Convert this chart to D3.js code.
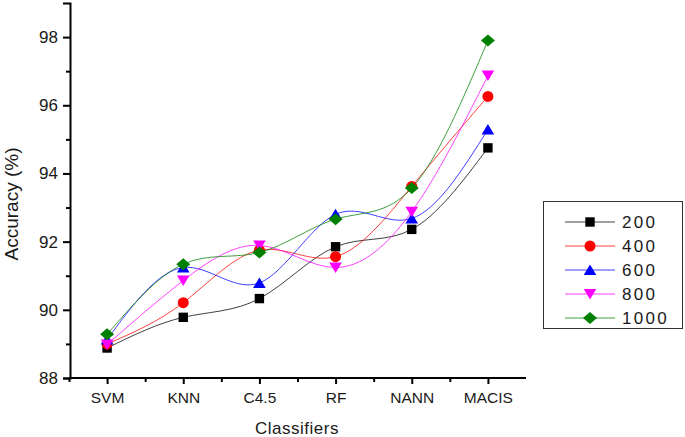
<!DOCTYPE html>
<html><head><meta charset="utf-8">
<script src="https://cdn.jsdelivr.net/npm/d3@7"></script>
<style>body{margin:0;background:#fff}svg{display:block}text{font-family:"Liberation Sans",Arial,sans-serif;fill:#1a1a1a}</style>
</head><body>
<svg id="c" width="685" height="437"></svg>
<script>
const categories = ["SVM","KNN","C4.5","RF","NANN","MACIS"];
const seriesNames = ["200","400","600","800","1000"];
const s200  = [88.88, 89.78, 90.33, 91.85, 92.36, 94.75];
const s400  = [89.00, 90.21, 91.75, 91.56, 93.62, 96.26];
const s600  = [89.13, 91.24, 90.79, 92.80, 92.68, 95.29];
const s800  = [88.98, 90.86, 91.89, 91.24, 92.88, 96.87];
const s1000 = [89.28, 91.34, 91.68, 92.66, 93.57, 97.90];
const yTicks = [88, 90, 92, 94, 96, 98];
const yMinor = [89, 91, 93, 95, 97];
const colors = ["#000000","#ff0000","#0000ff","#ff00ff","#008000"];
const series = [s200, s400, s600, s800, s1000];

const svg = d3.select("#c");
const x = d3.scaleLinear().domain([-0.5, 5.5]).range([69, 526]);
const y = d3.scaleLinear().domain([88, 99]).range([378, 3]);

// axes
const yAxis = d3.axisLeft(y).tickValues(yTicks).tickSize(7).tickPadding(5).tickFormat(d3.format("d"));
const gy = svg.append("g").attr("transform","translate(70,0)").call(yAxis);
gy.select(".domain").attr("stroke","#000").attr("stroke-width",2);
gy.selectAll(".tick line").attr("stroke","#000").attr("stroke-width",2);
gy.selectAll(".tick text").style("font-size","17px").attr("fill","#1a1a1a");
const gym = svg.append("g").attr("transform","translate(70,0)").call(d3.axisLeft(y).tickValues(yMinor).tickSize(4).tickFormat(""));
gym.select(".domain").remove();
gym.selectAll(".tick line").attr("stroke","#000").attr("stroke-width",2);

const xAxis = d3.axisBottom(x).tickValues(d3.range(categories.length)).tickSize(6).tickPadding(8).tickFormat(i=>categories[i]);
const gx = svg.append("g").attr("transform","translate(0,378)").call(xAxis);
gx.select(".domain").attr("stroke","#000").attr("stroke-width",2).attr("d","M69,0H526");
gx.selectAll(".tick line").attr("stroke","#000").attr("stroke-width",2);
gx.selectAll(".tick text").style("font-size","15.5px").attr("fill","#1a1a1a");
const gxm = svg.append("g").attr("transform","translate(0,378)").call(d3.axisBottom(x).tickValues([-0.5,0.5,1.5,2.5,3.5,4.5]).tickSize(4).tickFormat(""));
gxm.select(".domain").remove();
gxm.selectAll(".tick line").attr("stroke","#000").attr("stroke-width",2);

// axis titles
svg.append("text").attr("x",297).attr("y",434).attr("text-anchor","middle").style("font-size","17px").style("letter-spacing","0.5px").text("Classifiers");
svg.append("text").attr("transform","translate(18,204) rotate(-90)").attr("text-anchor","middle").style("font-size","19px").text("Accuracy (%)");

// series
const line = d3.line().x((d,i)=>x(i)).y(d=>y(d)).curve(d3.curveNatural);
function markerPath(k){
  switch(k){
    case 0: return "M-4.7,-4.7H4.7V4.7H-4.7Z";
    case 1: return d3.symbol().type(d3.symbolCircle).size(95)();
    case 2: return "M0,-5.5L6.3,5L-6.3,5Z";
    case 3: return "M0,5.5L6.3,-5L-6.3,-5Z";
    default: return "M0,-6L7,0L0,6L-7,0Z";
  }
}
function marker(g, k, cx, cy){
  g.append("path").attr("d", markerPath(k))
   .attr("transform",`translate(${cx},${cy})`).attr("fill",colors[k]);
}
series.forEach((vals,k)=>{
  const g = svg.append("g");
  g.append("path").attr("d", line(vals)).attr("fill","none").attr("stroke",colors[k]).attr("stroke-width",1).attr("stroke-opacity",0.75);
  vals.forEach((v,i)=>marker(g,k,x(i),y(v)));
});

// legend
const lg = svg.append("g");
lg.append("rect").attr("x",543.5).attr("y",201.5).attr("width",139).attr("height",127).attr("fill","#fff").attr("stroke","#333").attr("stroke-width",1);
seriesNames.forEach((n,k)=>{
  const yy = 222 + k*24;
  lg.append("line").attr("x1",565).attr("x2",615).attr("y1",yy).attr("y2",yy).attr("stroke",colors[k]).attr("stroke-width",1).attr("stroke-opacity",0.75);
  marker(lg,k,590,yy);
  lg.append("text").attr("x",622).attr("y",yy+6).style("font-size","17px").style("letter-spacing","2.3px").text(n);
});
</script>
</body></html>
